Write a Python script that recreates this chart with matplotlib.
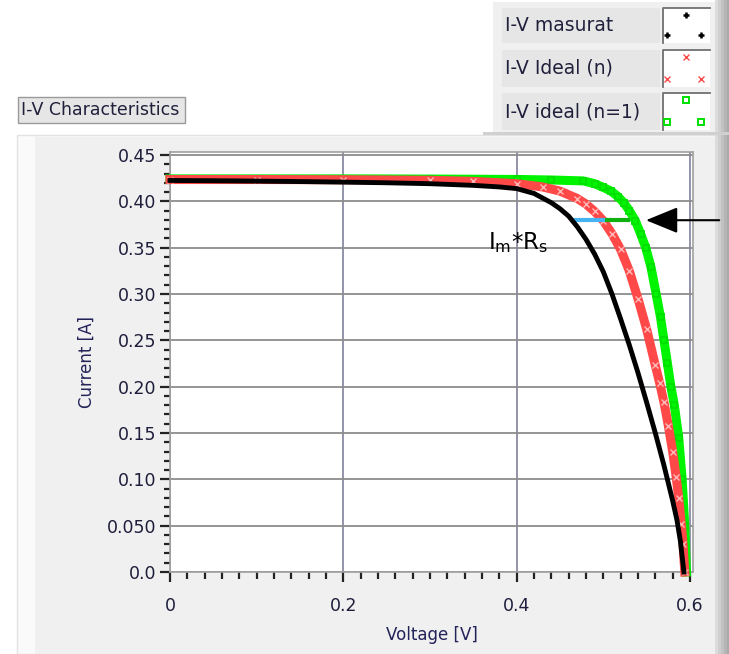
import numpy as np
import matplotlib
matplotlib.use("Agg")
import matplotlib.pyplot as plt
from matplotlib.patches import Rectangle
from matplotlib.lines import Line2D
from matplotlib.ticker import MultipleLocator, FixedLocator, FixedFormatter

# measured I-V curve
v_meas = [0.0, 0.05, 0.10, 0.15, 0.20, 0.25, 0.30, 0.35, 0.38, 0.40, 0.42, 0.44, 0.45,
          0.46, 0.47, 0.48, 0.49, 0.50, 0.51, 0.52, 0.53, 0.54, 0.55, 0.56, 0.57,
          0.58, 0.585, 0.589, 0.593]
i_meas = [0.4225, 0.4222, 0.4218, 0.4213, 0.4207, 0.4200, 0.4190, 0.4172, 0.4155, 0.4137,
          0.4085, 0.3985, 0.3920, 0.3840, 0.3725, 0.3590, 0.3430, 0.3240, 0.3000, 0.2730,
          0.2450, 0.2150, 0.1830, 0.1500, 0.1150, 0.0770, 0.0560, 0.0330, 0.0]

# ideal model with fitted n
v_ideal = [0.0, 0.10, 0.20, 0.30, 0.35, 0.40, 0.43, 0.45, 0.47, 0.48, 0.49, 0.50, 0.51,
           0.52, 0.53, 0.54, 0.55, 0.56, 0.565, 0.57, 0.575, 0.58, 0.584, 0.587, 0.59,
           0.592, 0.594]
i_ideal = [0.4235, 0.4235, 0.4233, 0.4227, 0.4215, 0.4190, 0.4155, 0.4110, 0.4030, 0.3970,
           0.3890, 0.3790, 0.3650, 0.3480, 0.3250, 0.2950, 0.2620, 0.2230, 0.2040, 0.1830,
           0.1580, 0.1300, 0.1030, 0.0800, 0.0520, 0.0300, 0.0]

# ideal model with n = 1
v_n1 = [0.0, 0.10, 0.20, 0.30, 0.40, 0.44, 0.477, 0.49, 0.50, 0.509, 0.517, 0.524, 0.53,
        0.537, 0.543, 0.549, 0.555, 0.561, 0.566, 0.570, 0.574, 0.578, 0.582, 0.587,
        0.591, 0.594, 0.596]
i_n1 = [0.4242, 0.4242, 0.4242, 0.4240, 0.4236, 0.4230, 0.4220, 0.4190, 0.4150, 0.4110,
        0.4050, 0.3980, 0.3900, 0.3790, 0.3650, 0.3500, 0.3290, 0.3000, 0.2750, 0.2500,
        0.2250, 0.2000, 0.1800, 0.1450, 0.1000, 0.0500, 0.0]

# Im*Rs voltage drop at the maximum power current
i_mp = 0.3796
v_mp_meas = 0.4615
v_mp_ideal = 0.502
v_mp_n1 = 0.531

y_ticks = [0.0, 0.05, 0.10, 0.15, 0.20, 0.25, 0.30, 0.35, 0.40, 0.45]
y_labels = ["0.0", "0.050", "0.10", "0.15", "0.20", "0.25", "0.30", "0.35", "0.40", "0.45"]
x_ticks = [0.0, 0.2, 0.4, 0.6]
x_labels = ["0", "0.2", "0.4", "0.6"]

W, H = 729, 654
fig = plt.figure(figsize=(W / 100, H / 100), dpi=100, facecolor="white")


def box(x0, y0, x1, y1, **kw):
    # rectangle given in pixel coords, origin top-left
    r = Rectangle((x0 / W, 1 - y1 / H), (x1 - x0) / W, (y1 - y0) / H,
                  transform=fig.transFigure, zorder=-2, **kw)
    fig.add_artist(r)
    return r


def fpt(x, y):
    return x / W, 1 - y / H


# graph panel
box(17, 135, 729, 654, facecolor="#fafafa", edgecolor="#e2e2e2", lw=1)
box(35, 137, 715, 654, facecolor="#f0f0f0", edgecolor="none")
for k, c in enumerate(["#dcdcdc", "#cfcfcf", "#c2c2c2", "#b5b5b5", "#aaaaaa"]):
    box(715 + 3 * k, 135, 718 + 3 * k, 654, facecolor=c, edgecolor="none")

# legend panel
box(493, 2, 715, 133, facecolor="#f0f0f0", edgecolor="none")
for k, c in enumerate(["#dcdcdc", "#cfcfcf", "#c2c2c2", "#b5b5b5", "#aaaaaa"]):
    box(715 + 3 * k, 0, 718 + 3 * k, 133, facecolor=c, edgecolor="none")
box(483, 132, 729, 135, facecolor="#d0d0d0", edgecolor="none")

legend_rows = [("I-V masurat", 8, 43), ("I-V Ideal (n)", 50, 87), ("I-V ideal (n=1)", 93, 130)]
for label, y0, y1 in legend_rows:
    box(502, y0, 660, y1, facecolor="#e6e6e6", edgecolor="none")
    box(663, y0, 710, y1, facecolor="white", edgecolor="none")
    fig.add_artist(Line2D([663 / W, 663 / W, 710 / W], [1 - y1 / H, 1 - y0 / H, 1 - y0 / H],
                          transform=fig.transFigure, color="#707070", lw=1.3))
    tx, ty = fpt(505, (y0 + y1) / 2)
    fig.text(tx, ty, label, fontsize=13.5, color="#20203c", ha="left", va="center")

swatch_style = [
    dict(marker="+", color="black", ms=5, mew=1.8),
    dict(marker="x", color="#ff4a4a", ms=5, mew=1.0),
    dict(marker="s", color="#00e000", mfc="none", ms=5, mew=1.4),
]
for (label, y0, y1), st in zip(legend_rows, swatch_style):
    xs = [686, 667, 701]
    ys = [y0 + 7, y1 - 8, y1 - 8]
    fig.add_artist(Line2D([x / W for x in xs], [1 - y / H for y in ys],
                          transform=fig.transFigure, ls="none", **st))

# graph caption
box(18, 97, 185, 123, facecolor="#e6e6e6", edgecolor="#9a9a9a", lw=1)
tx, ty = fpt(21, 110)
fig.text(tx, ty, "I-V Characteristics", fontsize=12.5, color="#20203c", ha="left", va="center")

# plot area
ax = fig.add_axes([170 / W, 1 - 572 / H, (693 - 170) / W, (572 - 152) / H])
ax.set_zorder(2)
ax.set_facecolor("white")
ax.set_xlim(0, 0.6035)
ax.set_ylim(0, 0.4532)

ax.yaxis.set_major_locator(FixedLocator(y_ticks))
ax.yaxis.set_major_formatter(FixedFormatter(y_labels))
ax.yaxis.set_minor_locator(MultipleLocator(0.01))
ax.xaxis.set_major_locator(FixedLocator(x_ticks))
ax.xaxis.set_major_formatter(FixedFormatter(x_labels))
ax.xaxis.set_minor_locator(MultipleLocator(0.02))

ax.grid(axis="y", which="major", color="#8c8c8c", lw=1.3)
ax.grid(axis="x", which="major", color="#8a8aa4", lw=1.3)
ax.set_axisbelow(True)
for s in ax.spines.values():
    s.set_color("#a0a0a0")
    s.set_linewidth(1.2)

ax.tick_params(which="major", direction="out", length=7, width=1.6, color="#222222",
               labelsize=12.5, labelcolor="#1e1e3c", pad=3)
ax.tick_params(which="minor", direction="out", length=4, width=1.6, color="#222222")
ax.tick_params(axis="x", which="both", pad=11)
ax.tick_params(axis="x", which="minor", length=5)

ax.set_xlabel("Voltage [V]", fontsize=12, color="#23235a", labelpad=8)
ax.set_ylabel("Current [A]", fontsize=12, color="#23235a", labelpad=8)

# curves: n=1 at the back, measured on top
ax.plot(v_n1, i_n1, color="#00f400", lw=6.5, marker="s", ms=5, mfc="none", mec="#00e000",
        mew=1.3, clip_on=False, zorder=3)
ax.plot(v_ideal, i_ideal, color="#ff4848", lw=6.5, marker="x", ms=5, mec="#ffb8b8",
        mew=1.0, clip_on=False, zorder=4)
ax.plot(v_meas, i_meas, color="black", lw=3.5, marker="+", ms=3, mew=1.2,
        clip_on=False, zorder=5)

# Im*Rs drop between the curves
ax.plot([v_mp_meas, v_mp_ideal], [i_mp, i_mp], color="#46b4f0", lw=3, zorder=4.5,
        solid_capstyle="butt")
ax.plot([v_mp_ideal, v_mp_n1], [i_mp, i_mp], color="#10b010", lw=3, zorder=4.5,
        solid_capstyle="butt")
ax.text(0.367, 0.356, r"I$_\mathrm{m}$*R$_\mathrm{s}$", fontsize=16.5, color="black",
        ha="left", va="center", zorder=6)
ax.annotate("", xy=(0.546, i_mp), xytext=(0.637, i_mp), annotation_clip=False,
            arrowprops=dict(arrowstyle="-|>,head_length=1.1,head_width=0.45",
                            color="black", lw=1.5, mutation_scale=18))

fig.savefig("out.png", dpi=100, facecolor=fig.get_facecolor())
